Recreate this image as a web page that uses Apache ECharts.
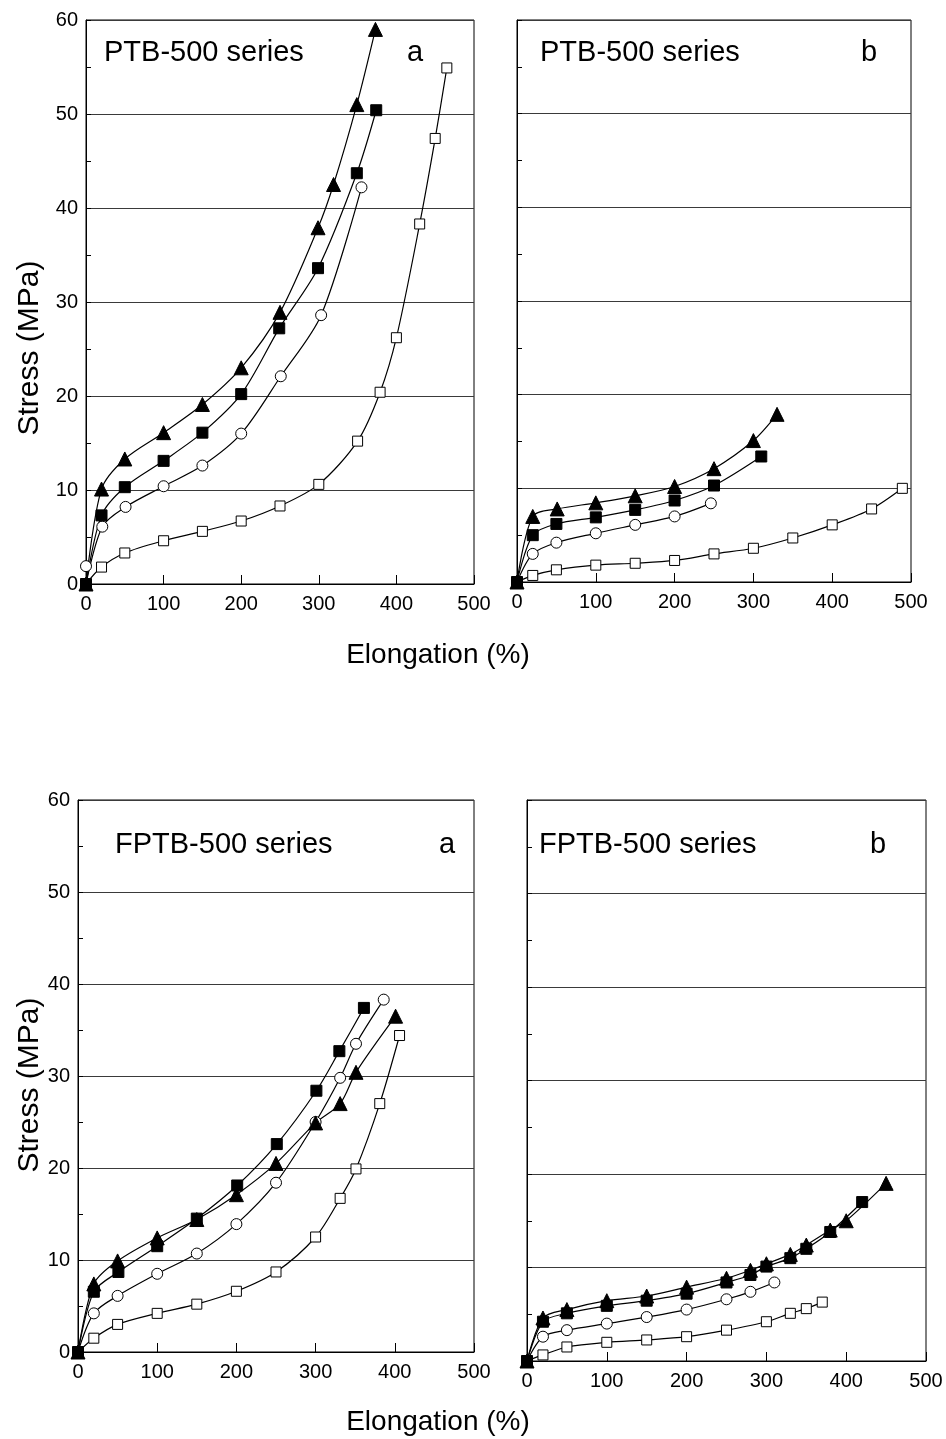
<!DOCTYPE html>
<html>
<head>
<meta charset="utf-8">
<script src="https://cdn.jsdelivr.net/npm/echarts@6/dist/echarts.min.js"></script>
<style>
  html, body { margin: 0; padding: 0; background: #fff; }
  #chart { width: 946px; height: 1439px; }
</style>
</head>
<body>
<div id="chart"></div>
<script>
// Stress–strain curves: stress (MPa) against elongation (%), four panels.

const xTickValues = [0, 100, 200, 300, 400, 500];
const yTickValues = [0, 10, 20, 30, 40, 50, 60];

const panelTitles = ['PTB-500 series', 'PTB-500 series', 'FPTB-500 series', 'FPTB-500 series'];
const panelLetters = ['a', 'b', 'a', 'b'];
const xAxisTitle = 'Elongation (%)';
const yAxisTitle = 'Stress (MPa)';

// PTB-500, panel a
const ptbA_triangle = [[0,0],[20,10.1],[50,13.3],[100,16.1],[150,19.1],[200,23.0],[250,28.9],[299,37.9],[319,42.5],[349,51.0],[373,59.0]];
const ptbA_square   = [[0,0],[20,7.3],[50,10.3],[100,13.1],[150,16.1],[200,20.2],[249,27.2],[299,33.6],[349,43.7],[374,50.4]];
const ptbA_circle   = [[0,0],[21,6.1],[51,8.2],[100,10.4],[150,12.6],[200,16.0],[251,22.1],[303,28.6],[355,42.2]];
const ptbA_circleExtra = [[0,1.9]];
const ptbA_openSq   = [[0,0],[20,1.8],[50,3.3],[100,4.6],[150,5.6],[200,6.7],[250,8.3],[300,10.6],[350,15.2],[379,20.4],[400,26.2],[430,38.3],[450,47.4],[465,54.9]];

// PTB-500, panel b
const ptbB_triangle = [[0,0],[20,7.0],[51,7.8],[100,8.45],[150,9.2],[200,10.2],[250,12.1],[300,15.1],[330,17.9]];
const ptbB_square   = [[0,0],[20,5.0],[50,6.2],[100,6.9],[150,7.7],[200,8.7],[250,10.3],[310,13.4]];
const ptbB_circle   = [[0,0],[20,3.0],[50,4.2],[100,5.2],[150,6.1],[200,7.0],[246,8.4]];
const ptbB_openSq   = [[0,0],[20,0.7],[50,1.3],[100,1.8],[150,2.0],[200,2.3],[250,3.0],[300,3.6],[350,4.7],[400,6.1],[450,7.8],[489,10.0]];

// FPTB-500, panel a
const fptbA_square   = [[0,0],[20,6.55],[51,8.7],[100,11.5],[150,14.5],[201,18.1],[251,22.6],[301,28.4],[330,32.7],[361,37.4]];
const fptbA_triangle = [[0,0],[20,7.4],[50,9.9],[100,12.4],[150,14.4],[200,17.1],[250,20.5],[300,24.9],[331,27.0],[351,30.4],[401,36.5]];
const fptbA_circle   = [[0,0],[20,4.2],[50,6.1],[100,8.5],[150,10.7],[200,13.9],[250,18.4],[300,25.0],[331,29.8],[351,33.5],[386,38.3]];
const fptbA_openSq   = [[0,0],[20,1.5],[50,3.0],[100,4.2],[150,5.2],[200,6.6],[250,8.7],[300,12.5],[331,16.7],[351,19.9],[381,27.0],[406,34.4]];

// FPTB-500, panel b
const fptbB_triangle = [[0,0],[20,4.6],[50,5.5],[100,6.45],[150,6.95],[200,7.9],[250,8.85],[280,9.7],[300,10.4],[330,11.4],[350,12.4],[380,14.0],[400,15.0],[450,19.0]];
const fptbB_square   = [[0,0],[20,4.2],[50,5.1],[100,5.9],[150,6.45],[200,7.2],[250,8.4],[280,9.2],[300,10.1],[330,11.0],[350,12.0],[380,13.8],[420,17.0]];
const fptbB_circle   = [[0,0],[20,2.6],[50,3.3],[100,4.0],[150,4.7],[200,5.5],[250,6.6],[280,7.4],[310,8.4]];
const fptbB_openSq   = [[0,0],[20,0.65],[50,1.5],[100,2.0],[150,2.25],[200,2.6],[250,3.3],[300,4.2],[330,5.1],[350,5.6],[370,6.3]];

const FONT = '"Liberation Sans", Arial, Helvetica, sans-serif';
const INK = '#000';

// Plot boxes of the four panels (px)
const boxes = [
  { left: 86,  top: 20,  width: 388, height: 564 },
  { left: 517, top: 20,  width: 394, height: 562 },
  { left: 78,  top: 800, width: 396, height: 552 },
  { left: 527, top: 800, width: 399, height: 561 }
];
const showYLabels = [true, false, true, false];

// Marker styles
const markers = {
  triangle: { symbol: 'triangle', size: 14, fill: INK },
  square:   { symbol: 'rect',     size: 11, fill: INK },
  circle:   { symbol: 'circle',   size: 11, fill: '#fff' },
  openSq:   { symbol: 'rect',     size: 10, fill: '#fff' }
};

function curve(data, kind, grid, withLine = true) {
  const m = markers[kind];
  return {
    type: 'line',
    xAxisIndex: grid,
    yAxisIndex: grid,
    data: data,
    smooth: 0.3,
    symbol: m.symbol,
    symbolSize: m.size,
    showAllSymbol: true,
    clip: false,
    lineStyle: { color: INK, width: withLine ? 1.2 : 0 },
    itemStyle: { color: m.fill, borderColor: INK, borderWidth: 1 },
    emphasis: { disabled: true },
    animation: false,
    z: 3
  };
}

const series = [
  curve(ptbA_openSq, 'openSq', 0),
  curve(ptbA_circle, 'circle', 0),
  curve(ptbA_circleExtra, 'circle', 0, false),
  curve(ptbA_square, 'square', 0),
  curve(ptbA_triangle, 'triangle', 0),

  curve(ptbB_openSq, 'openSq', 1),
  curve(ptbB_circle, 'circle', 1),
  curve(ptbB_square, 'square', 1),
  curve(ptbB_triangle, 'triangle', 1),

  curve(fptbA_openSq, 'openSq', 2),
  curve(fptbA_circle, 'circle', 2),
  curve(fptbA_triangle, 'triangle', 2),
  curve(fptbA_square, 'square', 2),

  curve(fptbB_openSq, 'openSq', 3),
  curve(fptbB_circle, 'circle', 3),
  curve(fptbB_square, 'square', 3),
  curve(fptbB_triangle, 'triangle', 3)
];

const grids = boxes.map(b => ({
  left: b.left, top: b.top, width: b.width, height: b.height,
  show: true, borderColor: INK, borderWidth: 1, backgroundColor: 'transparent',
  containLabel: false
}));

const xAxes = boxes.map((b, i) => ({
  type: 'value', gridIndex: i,
  min: xTickValues[0], max: xTickValues[xTickValues.length - 1],
  interval: xTickValues[1] - xTickValues[0],
  axisLine: { show: true, lineStyle: { color: INK, width: 1 } },
  axisTick: { show: true, inside: true, length: 9, lineStyle: { color: INK } },
  axisLabel: { show: true, color: INK, fontFamily: FONT, fontSize: 20, margin: 10 },
  splitLine: { show: false }
}));

const yAxes = boxes.map((b, i) => ({
  type: 'value', gridIndex: i,
  min: yTickValues[0], max: yTickValues[yTickValues.length - 1],
  interval: yTickValues[1] - yTickValues[0],
  axisLine: { show: true, lineStyle: { color: INK, width: 1 } },
  axisTick: { show: true, inside: true, length: 5, lineStyle: { color: INK } },
  minorTick: { show: true, splitNumber: 2, length: 5, lineStyle: { color: INK } },
  axisLabel: { show: showYLabels[i], color: INK, fontFamily: FONT, fontSize: 20, margin: 8 },
  splitLine: { show: true, lineStyle: { color: '#3a3a3a', width: 1 } }
}));

const textStyle = (size) => ({ fill: INK, font: size + 'px ' + FONT });

const graphics = [];
const titleLeft = [104, 540, 115, 539];
const titleMid  = [53, 53, 845, 845];
const letterX   = [415, 869, 447, 878];
boxes.forEach((b, i) => {
  graphics.push({
    type: 'text', x: titleLeft[i], y: titleMid[i],
    style: Object.assign(textStyle(29), { text: panelTitles[i], textAlign: 'left', textVerticalAlign: 'middle' })
  });
  graphics.push({
    type: 'text', x: letterX[i], y: titleMid[i],
    style: Object.assign(textStyle(29), { text: panelLetters[i], textAlign: 'center', textVerticalAlign: 'middle' })
  });
});
// Shared axis titles
[655, 1422].forEach(y => {
  graphics.push({
    type: 'text', x: 438, y: y,
    style: Object.assign(textStyle(28), { text: xAxisTitle, textAlign: 'center', textVerticalAlign: 'middle' })
  });
});
[348, 1085].forEach(y => {
  graphics.push({
    type: 'text', x: 30, y: y, rotation: Math.PI / 2,
    style: Object.assign(textStyle(30), { text: yAxisTitle, textAlign: 'center', textVerticalAlign: 'middle' })
  });
});

const chart = echarts.init(document.getElementById('chart'), null, { renderer: 'canvas' });
chart.setOption({
  animation: false,
  backgroundColor: '#fff',
  grid: grids,
  xAxis: xAxes,
  yAxis: yAxes,
  series: series,
  graphic: graphics
});
</script>
</body>
</html>
